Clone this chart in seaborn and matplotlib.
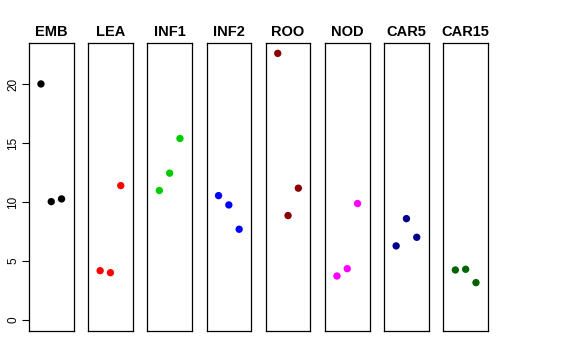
import matplotlib
matplotlib.use("Agg")
import numpy as np
import pandas as pd
import seaborn as sns
from matplotlib import pyplot as plt

# panels, one colour and three values each
groups = ["EMB", "LEA", "INF1", "INF2", "ROO", "NOD", "CAR5", "CAR15"]
colors = ["#000000", "#FF0000", "#00CD00", "#0000FF", "#8B0000", "#FF00FF", "#00008B", "#006400"]
emb = [20.0, 10.03, 10.26]
lea = [4.18, 4.01, 11.39]
inf1 = [10.97, 12.44, 15.38]
inf2 = [10.54, 9.75, 7.69]
roo = [22.59, 8.85, 11.17]
nod = [3.73, 4.35, 9.87]
car5 = [6.28, 8.59, 7.01]
car15 = [4.24, 4.30, 3.17]
reps = [1, 2, 3]
yticks = [0, 5, 10, 15, 20]

values = [emb, lea, inf1, inf2, roo, nod, car5, car15]
df = pd.DataFrame({
    "group": np.repeat(groups, len(reps)),
    "rep": reps * len(groups),
    "value": np.concatenate(values),
})

sns.set_style("white")
plt.rcParams["font.family"] = ["Liberation Sans", "DejaVu Sans"]
plt.rcParams["text.color"] = "black"
plt.rcParams["axes.labelcolor"] = "black"
plt.rcParams["ytick.color"] = "black"

fig = plt.figure(figsize=(5.76, 3.6), dpi=100)
left, width, step = 29 / 576, 44.5 / 576, 59.2 / 576
bottom, height = 1 - 330.7 / 360, (330.7 - 42.7) / 360

ymax = df["value"].max()
pad = 0.04 * ymax

for i, (g, c) in enumerate(zip(groups, colors)):
    ax = fig.add_axes([left + i * step, bottom, width, height])
    sub = df[df["group"] == g]
    sns.scatterplot(data=sub, x="rep", y="value", color=c, s=28,
                    edgecolor="none", ax=ax, legend=False)
    ax.set_xlim(-0.16, 4.16)
    ax.set_ylim(-pad, ymax + pad)
    ax.set_xticks([])
    ax.set_xlabel("")
    ax.set_ylabel("")
    ax.set_title(g, fontsize=10.5, fontweight="bold", color="black", pad=5)
    for s in ax.spines.values():
        s.set_visible(True)
        s.set_color("black")
        s.set_linewidth(0.9)
    if i == 0:
        ax.set_yticks(yticks)
        ax.tick_params(axis="y", left=True, length=5, width=0.8, labelsize=8.5,
                       labelrotation=90, pad=2, colors="black")
        for lbl in ax.get_yticklabels():
            lbl.set_verticalalignment("center")
    else:
        ax.set_yticks([])

fig.savefig("out.png", dpi=100)
